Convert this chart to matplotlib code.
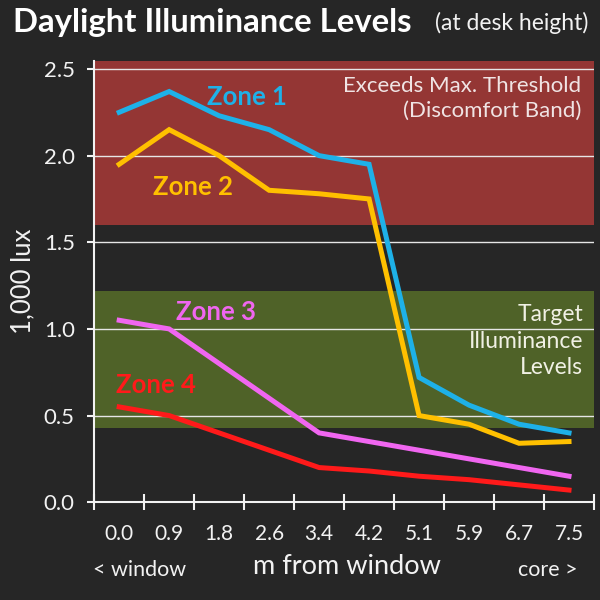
import numpy as np
import matplotlib.pyplot as plt

plt.rcParams['font.family'] = ['Lato', 'DejaVu Sans']

distances = ['0.0', '0.9', '1.8', '2.6', '3.4', '4.2', '5.1', '5.9', '6.7', '7.5']
zone1 = [2.25, 2.37, 2.23, 2.15, 2.00, 1.95, 0.72, 0.56, 0.45, 0.40]
zone2 = [1.95, 2.15, 2.00, 1.80, 1.78, 1.75, 0.50, 0.45, 0.34, 0.35]
zone3 = [1.05, 1.00, 0.80, 0.60, 0.40, 0.35, 0.30, 0.25, 0.20, 0.15]
zone4 = [0.55, 0.50, 0.40, 0.30, 0.20, 0.18, 0.15, 0.13, 0.10, 0.07]

discomfort_band = (1.6, 2.55)
target_band = (0.43, 1.22)

bg = '#262626'
fg = '#f2f2f2'

fig = plt.figure(figsize=(6, 6), dpi=100, facecolor=bg)
ax = fig.add_axes([0.157, 0.163, 0.833, 0.735], facecolor=bg)

x = np.arange(len(distances))

ax.axhspan(*discomfort_band, color='#943634', zorder=0, lw=0)
ax.axhspan(*target_band, color='#4f6228', zorder=0, lw=0)

for yv in [0.5, 1.0, 1.5, 2.0, 2.5]:
    ax.axhline(yv, color='#e6e6e6', lw=1, zorder=1)

series = [
    (zone1, '#1eb1e8', 'Zone 1', (2.56, 2.34)),
    (zone2, '#ffc000', 'Zone 2', (1.48, 1.82)),
    (zone3, '#f066f0', 'Zone 3', (1.94, 1.10)),
    (zone4, '#ff1a1a', 'Zone 4', (0.74, 0.675)),
]
for vals, col, name, pos in series:
    ax.plot(x, vals, color=col, lw=3.6, zorder=3, solid_joinstyle='miter')
    ax.text(pos[0], pos[1], name, color=col, fontsize=18.5, fontweight='bold',
            ha='center', va='center', zorder=4)

ax.text(9.25, 2.46, 'Exceeds Max. Threshold\n(Discomfort Band)', color='#f0e4e4',
        fontsize=16, ha='right', va='top', linespacing=1.3, zorder=4)
ax.text(9.28, 0.93, 'Target\nIlluminance\nLevels', color='#f0f0e4',
        fontsize=16.5, ha='right', va='center', linespacing=1.3, zorder=4)

ax.set_xlim(-0.5, 9.5)
ax.set_ylim(0, 2.545)

ax.set_xticks(np.arange(-0.5, 10, 1))
ax.set_xticklabels([])
ax.set_xticks(x, minor=True)
ax.set_xticklabels(distances, minor=True)
ax.tick_params(axis='x', which='major', direction='inout', length=12, width=1.5, color=fg)
ax.tick_params(axis='x', which='minor', length=0, pad=16, labelsize=15, labelcolor=fg)

ax.set_yticks([0, 0.5, 1.0, 1.5, 2.0, 2.5])
ax.set_yticklabels(['0.0', '0.5', '1.0', '1.5', '2.0', '2.5'])
ax.tick_params(axis='y', direction='out', length=5, width=1.5, color=fg,
               labelsize=16, labelcolor=fg, pad=9)

for s in ['top', 'right']:
    ax.spines[s].set_visible(False)
for s in ['left', 'bottom']:
    ax.spines[s].set_color(fg)
    ax.spines[s].set_linewidth(1.5)

ax.set_ylabel('1,000 lux', color=fg, fontsize=18.5, labelpad=6)

fig.text(0.578, 0.055, 'm from window', color=fg, fontsize=19.5,
         ha='center', va='center')
fig.text(0.155, 0.05, '< window', color=fg, fontsize=15.5, ha='left', va='center')
fig.text(0.963, 0.05, 'core >', color=fg, fontsize=15.5, ha='right', va='center')

fig.text(0.022, 0.962, 'Daylight Illuminance Levels', color='white', fontsize=23.7,
         fontweight='bold', ha='left', va='center')
fig.text(0.98, 0.962, '(at desk height)', color=fg, fontsize=16.5,
         ha='right', va='center')

fig.savefig('out.png', dpi=100, facecolor=bg)
